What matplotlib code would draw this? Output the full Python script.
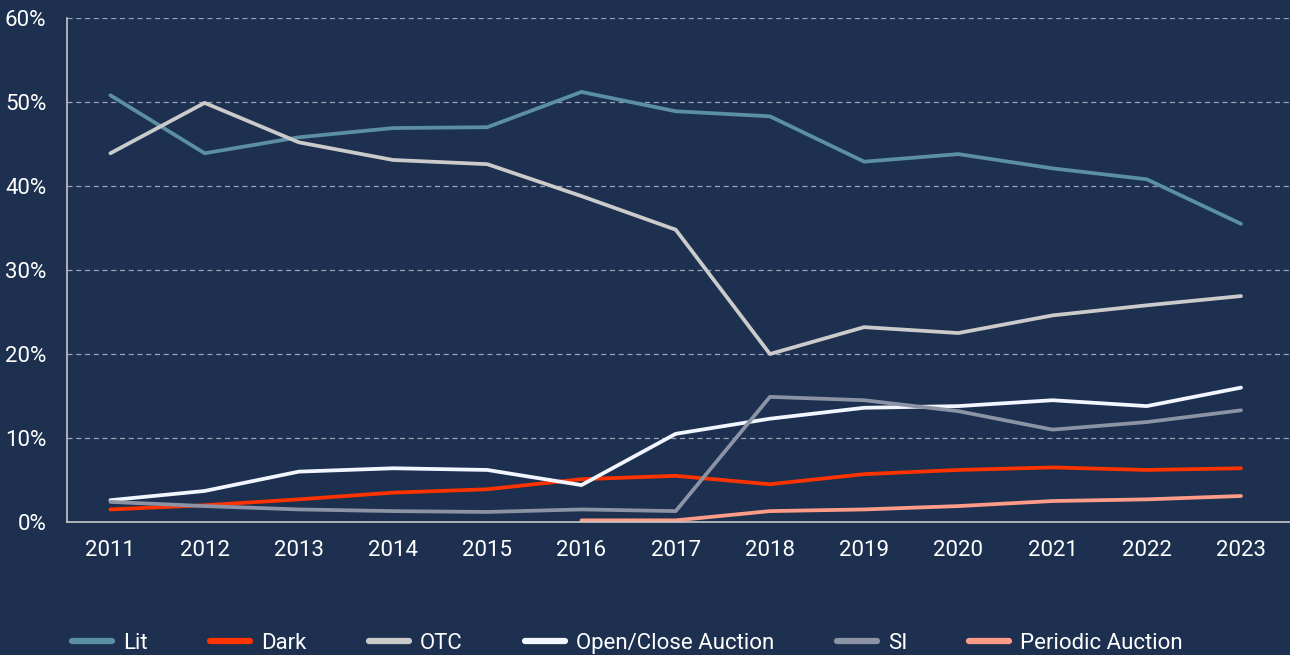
import numpy as np
import matplotlib
matplotlib.use("Agg")
import matplotlib.pyplot as plt
from matplotlib.ticker import FuncFormatter

plt.rcParams['font.family'] = ['Roboto', 'DejaVu Sans']

years = np.arange(2011, 2024)
lit = [50.8, 43.9, 45.8, 46.9, 47.0, 51.2, 48.9, 48.3, 42.9, 43.8, 42.1, 40.8, 35.5]
dark = [1.5, 2.0, 2.7, 3.5, 3.9, 5.1, 5.5, 4.5, 5.7, 6.2, 6.5, 6.2, 6.4]
otc = [43.9, 49.9, 45.2, 43.1, 42.6, 38.8, 34.8, 20.0, 23.2, 22.5, 24.6, 25.8, 26.9]
open_close = [2.6, 3.7, 6.0, 6.4, 6.2, 4.4, 10.5, 12.3, 13.6, 13.8, 14.5, 13.8, 16.0]
si = [2.4, 1.9, 1.5, 1.3, 1.2, 1.5, 1.3, 14.9, 14.5, 13.2, 11.0, 11.9, 13.3]
periodic_years = np.arange(2016, 2024)
periodic = [0.2, 0.2, 1.3, 1.5, 1.9, 2.5, 2.7, 3.1]

bg = '#1d3050'
fig = plt.figure(figsize=(12.9, 6.55), dpi=100, facecolor=bg)
ax = fig.add_axes([0.052, 0.203, 0.948, 0.7695], facecolor=bg)

lw = 2.7
ax.plot(years, lit, color='#5b8fa3', lw=lw, label='Lit', solid_capstyle='round')
ax.plot(years, dark, color='#ff3300', lw=lw, label='Dark', solid_capstyle='round')
ax.plot(years, otc, color='#cbcbcb', lw=lw, label='OTC', solid_capstyle='round')
ax.plot(years, open_close, color='#f2f7ff', lw=lw, label='Open/Close Auction', solid_capstyle='round')
ax.plot(years, si, color='#8b93a5', lw=lw, label='SI', solid_capstyle='round')
ax.plot(periodic_years, periodic, color='#ff9c87', lw=lw, label='Periodic Auction', solid_capstyle='round')

ax.set_ylim(0, 60)
ax.set_xlim(2010.54, 2023.52)
ax.set_yticks(np.arange(0, 61, 10))
ax.yaxis.set_major_formatter(FuncFormatter(lambda v, p: f"{int(v)}%"))
ax.set_xticks(years)
ax.grid(axis='y', color='#9aa3b3', ls=(0, (4, 3)), lw=0.9)
ax.set_axisbelow(True)
for s in ['top', 'right']:
    ax.spines[s].set_visible(False)
for s in ['left', 'bottom']:
    ax.spines[s].set_color('#c8c8c8')
    ax.spines[s].set_linewidth(1.2)
ax.tick_params(colors='white', labelsize=16, length=0)
ax.tick_params(axis='x', pad=13)
ax.tick_params(axis='y', pad=15)

leg = fig.legend(loc='center left', bbox_to_anchor=(0.056, 0.018), ncol=6, frameon=False,
                 fontsize=16, labelcolor='white', handlelength=1.8, columnspacing=2.8,
                 handletextpad=0.5, borderaxespad=0, borderpad=0)
for h in leg.get_lines():
    h.set_linewidth(4.5)
    h.set_solid_capstyle('round')

fig.savefig('out.png', dpi=100, facecolor=bg)
